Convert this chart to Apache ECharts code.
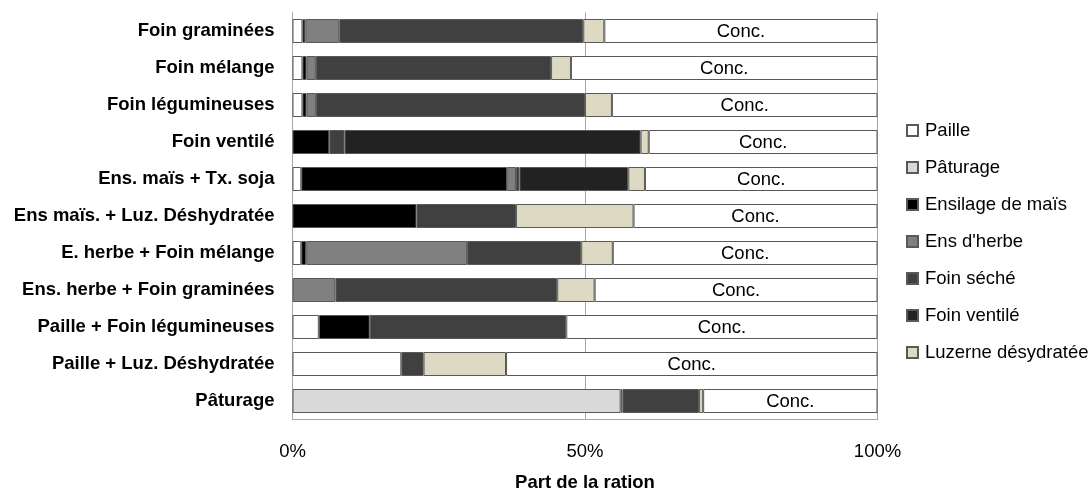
<!DOCTYPE html>
<html>
<head>
<meta charset="utf-8">
<script src="https://cdn.jsdelivr.net/npm/echarts@6/dist/echarts.min.js"></script>
<style>
html,body{margin:0;padding:0;background:#fff;}
#chart{width:1090px;height:489px;}
</style>
</head>
<body>
<div id="chart"></div>
<script>
const categories = [
  'Foin graminées',
  'Foin mélange',
  'Foin légumineuses',
  'Foin ventilé',
  'Ens. maïs + Tx. soja',
  'Ens maïs. + Luz. Déshydratée',
  'E. herbe + Foin mélange',
  'Ens. herbe + Foin graminées',
  'Paille + Foin légumineuses',
  'Paille + Luz. Déshydratée',
  'Pâturage'
];
const paille      = [1.7, 1.7, 1.7, null, 1.5, null, 1.5, null, 4.5, 18.6, null];
const paturage    = [null, null, null, null, null, null, null, null, null, null, 56.1];
const ensMais     = [0.5, 0.7, 0.7, 6.3, 35.2, 21.2, 0.85, null, 8.7, null, null];
const ensHerbe    = [5.8, 1.6, 1.6, null, 1.5, null, 27.5, 7.35, null, null, 0.3];
const foinSeche   = [41.7, 40.2, 46.0, 2.6, 0.6, 17.0, 19.5, 37.9, 33.6, 3.8, 13.1];
const foinVentile = [null, null, null, 50.6, 18.6, null, null, null, null, null, null];
const luzerne     = [3.6, 3.4, 4.6, 1.4, 2.85, 20.1, 5.4, 6.4, null, 14.1, 0.7];
const conc        = [46.7, 52.4, 45.4, 39.1, 39.75, 41.7, 45.25, 48.35, 53.2, 63.5, 29.8];
const xTicks = [0, 50, 100];

const seriesDefs = [
  ['Paille', paille, '#ffffff'],
  ['Pâturage', paturage, '#d9d9d9'],
  ['Ensilage de maïs', ensMais, '#000000'],
  ["Ens d'herbe", ensHerbe, '#808080'],
  ['Foin séché', foinSeche, '#404040'],
  ['Foin ventilé', foinVentile, '#222222'],
  ['Luzerne désydratée', luzerne, '#ddd9c3'],
  ['Conc.', conc, '#ffffff']
];
const FONT = 'Liberation Sans, Arial, sans-serif';
const FS = 18.5;
const chart = echarts.init(document.getElementById('chart'), null, {renderer:'canvas'});
const series = seriesDefs.map(([name, data, color]) => ({
  name, type:'bar', stack:'total', data, barWidth:24,
  itemStyle:{color, borderColor:'#595959', borderWidth:1},
  label: name === 'Conc.' ? {show:true, position:'inside', formatter:'Conc.', color:'#000', fontSize:FS, fontFamily:FONT, offset:[0,1]} : {show:false},
  emphasis:{disabled:true}, animation:false
}));
chart.setOption({
  animation:false,
  backgroundColor:'#fff',
  grid:{left:292.5, right:212.5, top:12.5, bottom:69.5, containLabel:false, outerBoundsMode:'none'},
  legend:{
    orient:'vertical', left:906, top:121, padding:0,
    data: seriesDefs.slice(0,7).map(s=>s[0]),
    itemWidth:11, itemHeight:11, itemGap:18, icon:'rect',
    textStyle:{fontSize:FS, color:'#000', fontFamily:FONT, padding:[0,0,0,2]},
    selectedMode:false
  },
  xAxis:{
    type:'value', min:xTicks[0], max:xTicks[2], interval:xTicks[1]-xTicks[0],
    axisLabel:{formatter:'{value}%', fontSize:FS, color:'#000', fontFamily:FONT, margin:23},
    axisLine:{show:true, lineStyle:{color:'#a6a6a6'}},
    axisTick:{show:false},
    splitLine:{show:true, lineStyle:{color:'#a6a6a6'}},
    name:'Part de la ration', nameLocation:'middle', nameGap:54,
    nameTextStyle:{fontSize:FS, fontWeight:'bold', color:'#000', fontFamily:FONT}
  },
  yAxis:{
    type:'category', inverse:true, data:categories,
    axisTick:{show:false},
    axisLine:{show:true, lineStyle:{color:'#a6a6a6'}},
    axisLabel:{fontSize:FS, fontWeight:'bold', color:'#000', fontFamily:FONT, margin:18, padding:[3,0,0,0]}
  },
  series
});
</script>
</body>
</html>
